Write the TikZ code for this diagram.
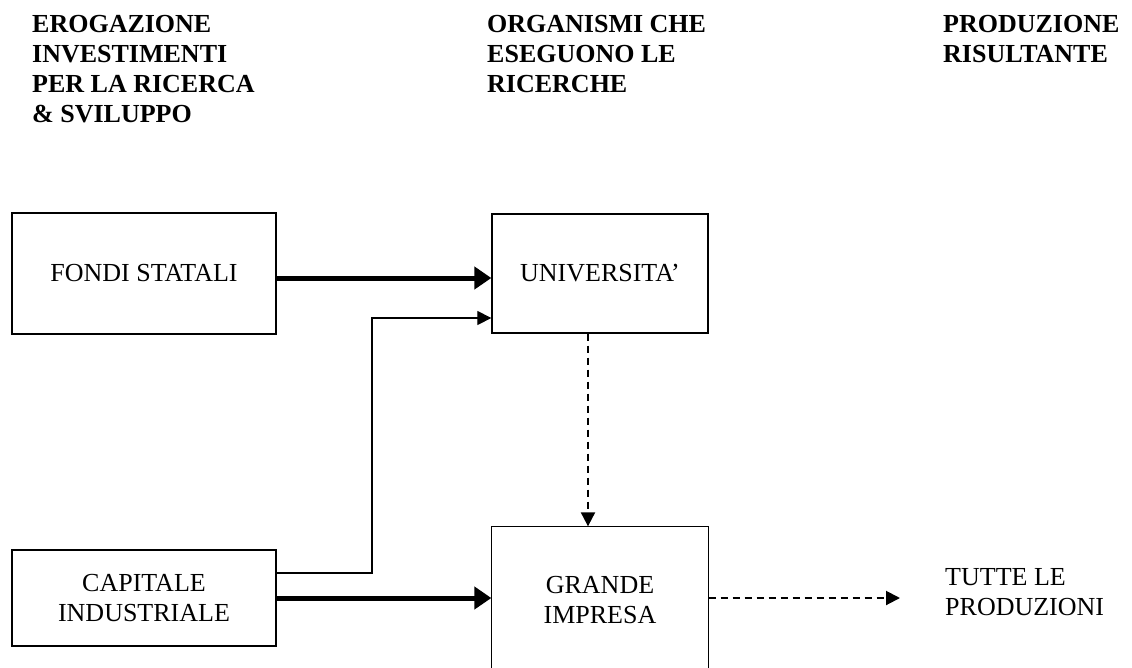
\documentclass[tikz,border=0pt]{standalone}
\usepackage{fontspec}
\setmainfont{Liberation Serif}
\usetikzlibrary{arrows.meta}

\begin{document}
\begin{tikzpicture}[x=1pt,y=-1pt,
  font=\fontsize{26}{30}\selectfont,
  box/.style={rectangle,draw,line width=1.3pt,align=center,inner sep=0pt},
  head/.style={anchor=north west,align=left,inner sep=0pt,font=\fontsize{26}{30}\selectfont\bfseries},
  fat/.style={line width=5pt,-{Triangle[length=17pt,width=22pt]}},
  slim/.style={line width=1.2pt,-{Triangle[length=14pt,width=14pt]}},
  dasharrow/.style={line width=2pt,dash pattern=on 7pt off 5pt,-{Triangle[length=14pt,width=14pt]}}]
\useasboundingbox (0,0) rectangle (1132,667);
\clip (0,0) rectangle (1132,667);

\coordinate (H1) at (32,15.5);
\coordinate (H2) at (487,15.5);
\coordinate (H3) at (943,15.5);
\coordinate (A) at (144,273.5);
\coordinate (B) at (600,273.5);
\coordinate (C) at (144,598);
\coordinate (D) at (600,600);
\coordinate (E) at (945,592);
\coordinate (K) at (372,318);
\coordinate (P) at (900,598);


\node[head] (H1a) at (H1) {EROGAZIONE\\INVESTIMENTI\\PER LA RICERCA\\\& SVILUPPO};
\node[head] (H2a) at (H2) {ORGANISMI CHE\\ESEGUONO LE\\RICERCHE};
\node[head] (H3a) at (H3) {PRODUZIONE\\RISULTANTE};
\node[box,minimum width=264pt,minimum height=121pt] (A1) at (A) {FONDI STATALI};
\node[box,minimum width=216pt,minimum height=119pt] (B1) at (B) {UNIVERSITA’};
\node[box,minimum width=264pt,minimum height=96pt] (C1) at (C) {CAPITALE\\INDUSTRIALE};
\node[box,draw=none,minimum width=216pt,minimum height=146pt] (D1) at (D) {GRANDE\\IMPRESA};
\node[anchor=west,align=left,inner sep=0pt] (E1) at (E) {TUTTE LE\\PRODUZIONI};

\draw[line width=1.3pt] (D1.south west) |- (D1.north east) -- (D1.south east);
\draw[fat] ([yshift=-4.5pt]A1.east) -- ([yshift=-4.5pt]B1.west);
\draw[slim] ([yshift=25pt]C1.east) -| (K) -- (K -| B1.west);
\draw[fat] (C1.east) -- (C1.east -| D1.west);
\draw[dasharrow] ([xshift=-12pt]B1.south) -- ([xshift=-12pt]B1.south |- D1.north);
\draw[dasharrow] (D1.east |- P) -- (P);


\end{tikzpicture}
\end{document}
